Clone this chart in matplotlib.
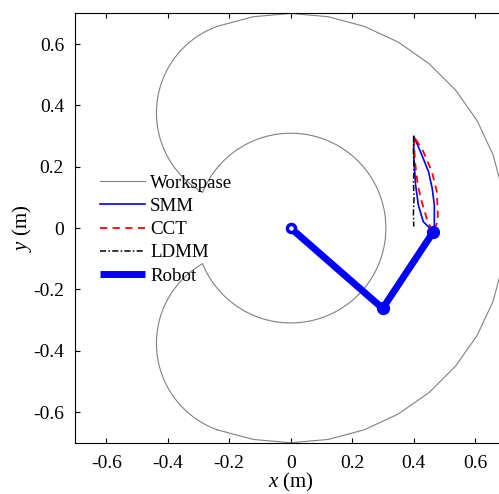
import numpy as np
import matplotlib
matplotlib.use('Agg')
from matplotlib import pyplot as plt

plt.rcParams['font.family'] = 'Liberation Serif'
plt.rcParams['mathtext.fontset'] = 'custom'
plt.rcParams['mathtext.rm'] = 'Liberation Serif'
plt.rcParams['mathtext.it'] = 'Liberation Serif:italic'
plt.rcParams['axes.unicode_minus'] = False

# Robot geometry (m) and joint limits (deg)
L1 = 0.4
L2 = 0.3
Q1_LIM = 110.0
Q2_LIM = 130.0

# Robot pose: base, elbow, end effector
robot_x = [0.0, 0.299, 0.464]
robot_y = [0.0, -0.262, -0.012]

# End-effector paths
smm_x = [0.464, 0.467, 0.467, 0.460, 0.448, 0.426, 0.412, 0.400,
         0.400, 0.401, 0.406, 0.415, 0.431, 0.453]
smm_y = [-0.012, 0.010, 0.075, 0.130, 0.184, 0.239, 0.272, 0.300,
         0.260, 0.217, 0.141, 0.075, 0.021, -0.001]

cct_x = [0.466, 0.478, 0.478, 0.475, 0.459, 0.431, 0.414, 0.400,
         0.402, 0.404, 0.413, 0.426, 0.442, 0.456]
cct_y = [-0.005, 0.021, 0.054, 0.119, 0.184, 0.250, 0.278, 0.300,
         0.260, 0.217, 0.141, 0.086, 0.032, -0.001]

ldmm_x = [0.400, 0.399, 0.401, 0.399, 0.401, 0.399, 0.400]
ldmm_y = [0.300, 0.250, 0.200, 0.150, 0.100, 0.050, 0.005]


def arc(cx, cy, r, a0, a1, n):
    t = np.radians(np.linspace(a0, a1, n))
    return cx + r * np.cos(t), cy + r * np.sin(t)


# Workspace boundary: outer arc, upper end arc, inner arc, lower end arc
r_in = np.sqrt(L1**2 + L2**2 + 2 * L1 * L2 * np.cos(np.radians(Q2_LIM)))
off = np.degrees(np.arctan2(L2 * np.sin(np.radians(Q2_LIM)),
                            L1 + L2 * np.cos(np.radians(Q2_LIM))))
ex_up, ey_up = L1 * np.cos(np.radians(Q1_LIM)), L1 * np.sin(np.radians(Q1_LIM))
ex_lo, ey_lo = ex_up, -ey_up

pieces = [
    arc(0, 0, L1 + L2, -Q1_LIM, Q1_LIM, 23),
    arc(ex_up, ey_up, L2, Q1_LIM, Q1_LIM + Q2_LIM, 40),
    arc(0, 0, r_in, Q1_LIM + off, -(Q1_LIM + off), 120),
    arc(ex_lo, ey_lo, L2, -(Q1_LIM + Q2_LIM), -Q1_LIM, 40),
]
ws_x = np.concatenate([p[0] for p in pieces])
ws_y = np.concatenate([p[1] for p in pieces])

fig = plt.figure(figsize=(4.99, 4.94), dpi=100)
ax = fig.add_axes([0.1513, 0.1038, 0.8627, 0.869])

ax.plot(ws_x, ws_y, color=(0.5, 0.5, 0.5), lw=0.8, label='Workspase')
ax.plot(smm_x, smm_y, color='b', lw=1.2, label='SMM')
ax.plot(cct_x, cct_y, color='r', lw=1.3, ls=(0, (4, 3)), label='CCT')
ax.plot(ldmm_x, ldmm_y, color='k', lw=1.1, ls=(0, (4, 1.5, 1, 1.5)), label='LDMM')
ax.plot(robot_x, robot_y, color='b', lw=5, label='Robot', solid_capstyle='butt')
ax.plot(robot_x[0], robot_y[0], 'o', ms=5.8, mfc='white', mec='b', mew=2.5)
ax.plot(robot_x[1:], robot_y[1:], 'o', ms=8.5, mfc='b', mec='b', mew=1)

ax.set_xlim(-0.7, 0.7)
ax.set_ylim(-0.7, 0.7)
ax.set_xticks(np.arange(-0.6, 0.61, 0.2))
ax.set_yticks(np.arange(-0.6, 0.61, 0.2))
ax.set_xticklabels(['-0.6', '-0.4', '-0.2', '0', '0.2', '0.4', '0.6'])
ax.set_yticklabels(['-0.6', '-0.4', '-0.2', '0', '0.2', '0.4', '0.6'])
ax.tick_params(direction='in', length=3.6, width=0.8, labelsize=14,
               top=True, right=True)
ax.tick_params(axis='x', pad=8.5)
ax.tick_params(axis='y', pad=8.2)
ax.set_xlabel('$x$ (m)', fontsize=15, labelpad=-0.5)
ax.set_ylabel('$y$ (m)', fontsize=15, labelpad=-1)

ax.legend(loc='upper left', bbox_to_anchor=(0.057, 0.625), frameon=False,
          fontsize=13.6, handlelength=2.4, handletextpad=0.25,
          labelspacing=0.32, borderpad=0, borderaxespad=0)

fig.savefig('out.png', dpi=100)
